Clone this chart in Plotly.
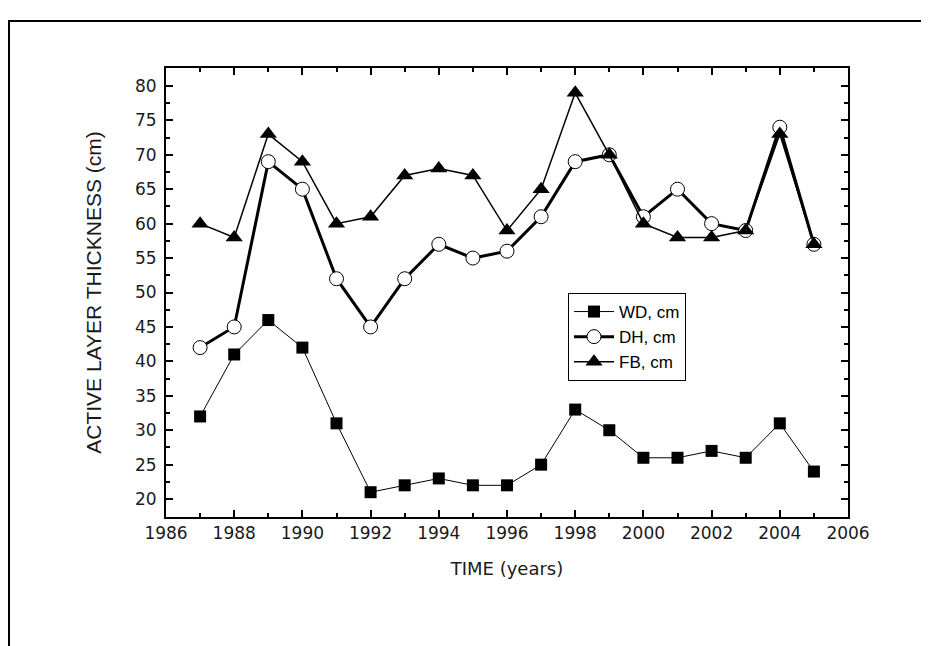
import plotly.graph_objects as go

years = [1987, 1988, 1989, 1990, 1991, 1992, 1993, 1994, 1995, 1996,
         1997, 1998, 1999, 2000, 2001, 2002, 2003, 2004, 2005]
wd = [32, 41, 46, 42, 31, 21, 22, 23, 22, 22, 25, 33, 30, 26, 26, 27, 26, 31, 24]
dh = [42, 45, 69, 65, 52, 45, 52, 57, 55, 56, 61, 69, 70, 61, 65, 60, 59, 74, 57]
fb = [60, 58, 73, 69, 60, 61, 67, 68, 67, 59, 65, 79, 70, 60, 58, 58, 59, 73, 57]

FONT = "DejaVu Sans"
LFONT = "Liberation Sans"
TXT = "#1a1a1a"

fig = go.Figure()
fig.add_trace(go.Scatter(x=years, y=wd, name="WD, cm", mode="lines+markers",
                         line=dict(color="black", width=1),
                         marker=dict(symbol="square", size=12, color="black")))
fig.add_trace(go.Scatter(x=years, y=dh, name="DH, cm", mode="lines+markers",
                         line=dict(color="black", width=3),
                         marker=dict(symbol="circle", size=14, color="white",
                                     line=dict(color="black", width=1))))
fig.add_trace(go.Scatter(x=years, y=fb, name="FB, cm", mode="lines+markers",
                         line=dict(color="black", width=1.5),
                         marker=dict(symbol="triangle-up", size=15, color="black")))

axis_common = dict(showgrid=False, zeroline=False, showline=True, linecolor="black",
                   linewidth=2, mirror="ticks", ticks="inside", ticklen=7, tickwidth=2,
                   tickcolor="black", tickfont=dict(family=FONT, size=17, color=TXT))

fig.update_xaxes(range=[1986, 2006], dtick=2, tick0=1986,
                 minor=dict(dtick=1, ticks="inside", ticklen=4, tickwidth=2, tickcolor="black"),
                 title=dict(text="TIME (years)", font=dict(family=FONT, size=18, color=TXT),
                            standoff=20),
                 **axis_common)
fig.update_yaxes(range=[17.4, 82.6], dtick=5, tick0=20, ticklabelstandoff=4,
                 minor=dict(dtick=2.5, ticks="inside", ticklen=4, tickwidth=2, tickcolor="black"),
                 title=dict(text="ACTIVE LAYER THICKNESS (cm)",
                            font=dict(family=LFONT, size=21, color=TXT), standoff=28),
                 **axis_common)

W, H = 921, 638
L, R, T, B = 158, 81, 60, 129
pw, ph = W - L - R, H - T - B
fig.add_shape(type="rect", xref="paper", yref="paper",
              x0=(1 - L) / pw, x1=(W + 40 - L) / pw,
              y0=-(B + 60) / ph, y1=(H - B - 13) / ph,
              line=dict(color="black", width=2), layer="below")

fig.update_layout(
    width=W, height=H,
    margin=dict(l=L, r=R, t=T, b=B),
    plot_bgcolor="white", paper_bgcolor="white",
    font=dict(family=FONT, size=14, color=TXT),
    legend=dict(x=(568 - 8 - L) / pw, y=(H - B - (293 - 8)) / ph,
                xanchor="left", yanchor="top",
                bordercolor="black", borderwidth=1, bgcolor="white",
                font=dict(family=LFONT, size=17, color="black"),
                tracegroupgap=0, itemwidth=40),
)

fig.write_html("out.html")
